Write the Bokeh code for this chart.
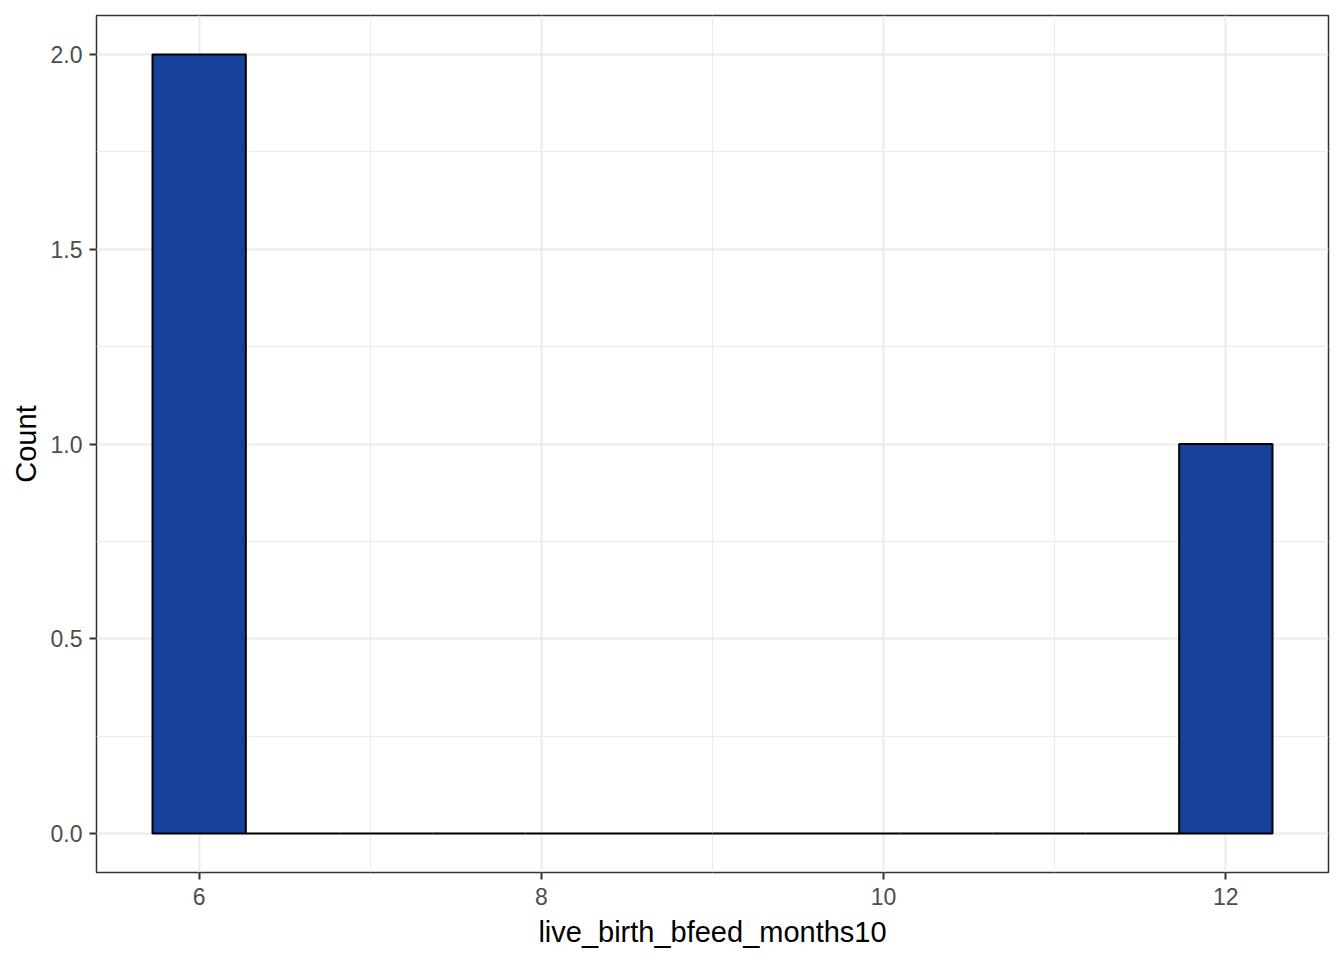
import numpy as np
from bokeh.plotting import figure
from bokeh.models import Range1d, FixedTicker, PrintfTickFormatter, ColumnDataSource
from bokeh.embed import file_html
from bokeh.resources import INLINE

# Data: histogram of live_birth_bfeed_months10 (12 bins)
bin_centers = [6.0, 6.545, 7.091, 7.636, 8.182, 8.727, 9.273, 9.818, 10.364, 10.909, 11.455, 12.0]
counts = [2, 0, 0, 0, 0, 0, 0, 0, 0, 0, 0, 1]
x_ticks = [6, 8, 10, 12]
x_minor = [7, 9, 11]
y_ticks = [0.0, 0.5, 1.0, 1.5, 2.0]
y_minor = [0.25, 0.75, 1.25, 1.75]

binwidth = (bin_centers[-1] - bin_centers[0]) / (len(bin_centers) - 1)
src = ColumnDataSource(dict(
    left=[c - binwidth / 2 for c in bin_centers],
    right=[c + binwidth / 2 for c in bin_centers],
    top=counts,
    bottom=[0] * len(counts),
))

xlo = bin_centers[0] - binwidth / 2
xhi = bin_centers[-1] + binwidth / 2
xpad = (xhi - xlo) * 0.05
ymax = max(counts)
ypad = ymax * 0.05

p = figure(width=1336, height=952, output_backend="svg", toolbar_location=None,
           x_range=Range1d(xlo - xpad, xhi + xpad), y_range=Range1d(-ypad, ymax + ypad),
           min_border_left=96, min_border_right=8, min_border_top=15, min_border_bottom=80)

p.quad(left="left", right="right", top="top", bottom="bottom", source=src,
       fill_color="#16419A", line_color="black", line_width=2)

p.background_fill_color = "white"
p.border_fill_color = "white"
p.outline_line_color = "#333333"
p.outline_line_width = 1.5

p.xaxis.ticker = FixedTicker(ticks=x_ticks, minor_ticks=x_minor)
p.yaxis.ticker = FixedTicker(ticks=y_ticks, minor_ticks=y_minor)
p.yaxis.formatter = PrintfTickFormatter(format="%.1f")

for g in (p.xgrid[0], p.ygrid[0]):
    g.grid_line_color = "#EBEBEB"
    g.grid_line_width = 2
    g.minor_grid_line_color = "#EBEBEB"
    g.minor_grid_line_width = 1

for ax in (p.xaxis[0], p.yaxis[0]):
    ax.axis_line_color = None
    ax.major_tick_line_color = "#333333"
    ax.major_tick_line_width = 2
    ax.major_tick_out = 7
    ax.major_tick_in = 0
    ax.minor_tick_line_color = None
    ax.major_label_text_font = "Liberation Sans"
    ax.major_label_text_font_size = "23px"
    ax.major_label_text_color = "#4D4D4D"
    ax.axis_label_text_font = "Liberation Sans"
    ax.axis_label_text_font_size = "29px"
    ax.axis_label_text_font_style = "normal"
    ax.axis_label_text_color = "black"

p.xaxis.major_label_standoff = 8
p.yaxis.major_label_standoff = 7
p.xaxis.axis_label = "live_birth_bfeed_months10"
p.yaxis.axis_label = "Count"
p.xaxis.axis_label_standoff = 8
p.yaxis.axis_label_standoff = 6

open("out.html", "w").write(file_html(p, INLINE))
